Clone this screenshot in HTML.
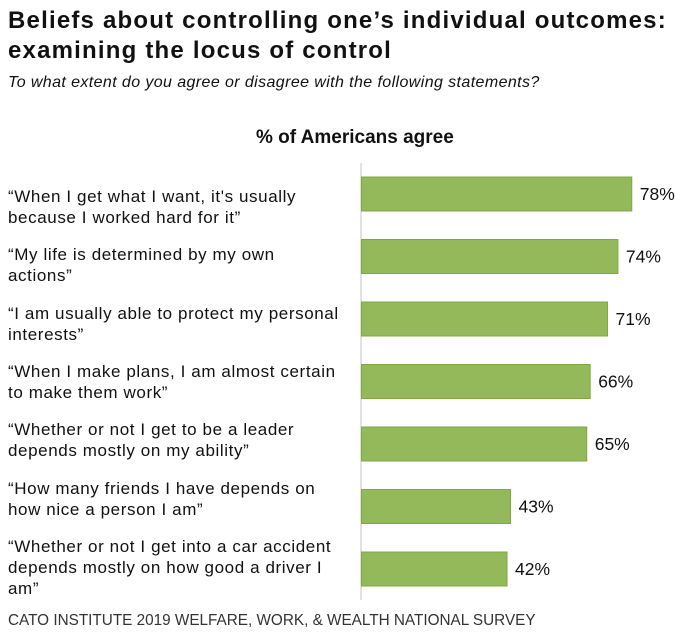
<!DOCTYPE html>
<html><head><meta charset="utf-8"><style>
body{margin:0;background:#fff;width:695px;height:638px;overflow:hidden;font-family:"Liberation Sans",sans-serif;color:#111;position:relative}
.t{position:absolute;left:8px;font-weight:bold;font-size:24px;line-height:30px;letter-spacing:1.2px;white-space:nowrap}
.sub{position:absolute;left:8px;top:74px;font-style:italic;font-size:16px;letter-spacing:0.4px;white-space:nowrap}
.ht{position:absolute;left:256px;top:127px;font-weight:bold;font-size:19px;white-space:nowrap}
.lab{position:absolute;left:8px;font-size:17px;line-height:21px;letter-spacing:0.6px;white-space:nowrap}
.src{position:absolute;left:8px;top:612px;font-size:15.3px;color:#333;white-space:nowrap}
</style></head><body>
<div class="t" style="top:6px">Beliefs about controlling one’s individual outcomes:<br>examining the locus of control</div>
<div class="sub">To what extent do you agree or disagree with the following statements?</div>
<div class="ht">% of Americans agree</div>
<div id="labels"></div>
<svg id="c" width="695" height="638" style="position:absolute;left:0;top:0"></svg>
<div class="src">CATO INSTITUTE 2019 WELFARE, WORK, &amp; WEALTH NATIONAL SURVEY</div>
<script>
const categories=[["“When I get what I want, it's usually","because I worked hard for it”"],["“My life is determined by my own","actions”"],["“I am usually able to protect my personal","interests”"],["“When I make plans, I am almost certain","to make them work”"],["“Whether or not I get to be a leader","depends mostly on my ability”"],["“How many friends I have depends on","how nice a person I am”"],["“Whether or not I get into a car accident","depends mostly on how good a driver I","am”"]];
const values=[78,74,71,66,65,43,42];
const valueLabels=["78%","74%","71%","66%","65%","43%","42%"];
const x0=361.5,scale=3.465,top0=177,step=62.5,bh=34;
const labTop0=186,labStep=58.3;
const xs=v=>x0+v*scale, ys=i=>top0+i*step;
const svg=document.getElementById('c'),NS="http://www.w3.org/2000/svg";
const axis=document.createElementNS(NS,'line');
axis.setAttribute('x1',361);axis.setAttribute('x2',361);axis.setAttribute('y1',163);axis.setAttribute('y2',600);
axis.setAttribute('stroke','#d9d9d9');axis.setAttribute('stroke-width',1.5);


svg.appendChild(axis);
const lw=document.getElementById('labels');
values.forEach((v,i)=>{
 const r=document.createElementNS(NS,'rect');
 r.setAttribute('x',x0);r.setAttribute('y',ys(i));r.setAttribute('width',xs(v)-x0);r.setAttribute('height',bh);
 r.setAttribute('fill','#93b95a');r.setAttribute('stroke','#7fa845');r.setAttribute('stroke-width',1);
 
 
 svg.appendChild(r);
 const t=document.createElementNS(NS,'text');
 t.setAttribute('x',xs(v)+8);t.setAttribute('y',ys(i)+bh/2+6);
 t.setAttribute('font-size','17.5');t.setAttribute('font-family','Liberation Sans, sans-serif');t.setAttribute('fill','#111');
 t.textContent=valueLabels[i];
 
 
 svg.appendChild(t);
 const d=document.createElement('div');
 d.className='lab';d.style.top=(labTop0+i*labStep)+'px';
 d.innerHTML=categories[i].join('<br>');
 
 
 lw.appendChild(d);
});
</script>
</body></html>
